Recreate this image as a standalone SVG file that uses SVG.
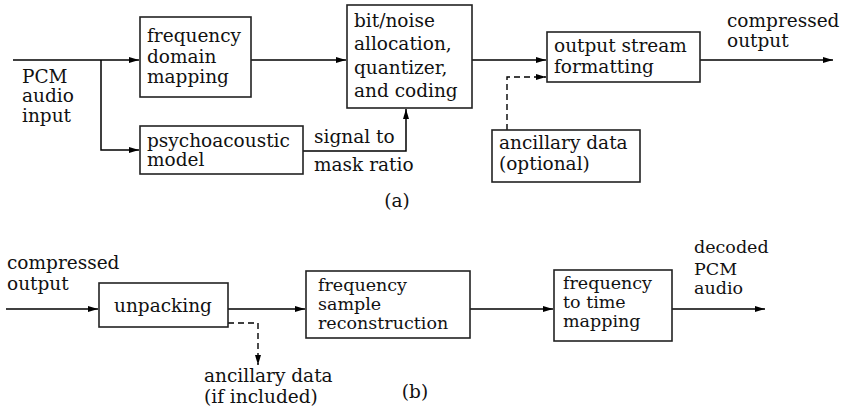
<svg xmlns="http://www.w3.org/2000/svg" width="841" height="416" viewBox="0 0 841 416">
<style>
text{font-family:"DejaVu Serif","Liberation Serif",serif;font-size:18.5px;fill:#111}
.tight{font-size:17.5px}
.box{fill:#fff;stroke:#222;stroke-width:1.6}
.ln{fill:none;stroke:#000;stroke-width:1.5}
.dash{fill:none;stroke:#000;stroke-width:1.4;stroke-dasharray:6,4}
</style>
<defs>
<marker id="ah" viewBox="0 0 10 6" refX="10" refY="3" markerWidth="10" markerHeight="6" markerUnits="userSpaceOnUse" orient="auto">
<path d="M0,0 L10,3 L0,6 Z" fill="#000"/>
</marker>
</defs>
<rect width="841" height="416" fill="#fff"/>
<g id="connectors">
<path class="ln" d="M13,60 H139" marker-end="url(#ah)"/>
<path class="ln" d="M101,60 V150 H139" marker-end="url(#ah)"/>
<path class="ln" d="M251,60 H346" marker-end="url(#ah)"/>
<path class="ln" d="M303,151 H406 V109" marker-end="url(#ah)"/>
<path class="ln" d="M472,60 H546" marker-end="url(#ah)"/>
<path class="dash" d="M507,130 V77 H546" marker-end="url(#ah)"/>
<path class="ln" d="M700,60 H833" marker-end="url(#ah)"/>
<path class="ln" d="M6,309 H98" marker-end="url(#ah)"/>
<path class="ln" d="M228,309 H305" marker-end="url(#ah)"/>
<path class="dash" d="M228,323 H258 V365" marker-end="url(#ah)"/>
<path class="ln" d="M470,309 H553" marker-end="url(#ah)"/>
<path class="ln" d="M672,309 H765" marker-end="url(#ah)"/>
</g>
<g id="pcm-input">
<text x="22" y="83">PCM</text>
<text x="22" y="102">audio</text>
<text x="22" y="122">input</text>
</g>
<g id="freq-domain">
<rect class="box" x="140" y="17" width="111" height="80"/>
<text x="147" y="42">frequency</text>
<text x="147" y="63">domain</text>
<text x="147" y="83">mapping</text>
</g>
<g id="psycho">
<rect class="box" x="140" y="126" width="163" height="48"/>
<text x="147" y="147">psychoacoustic</text>
<text x="147" y="166">model</text>
</g>
<g id="smr-label">
<text x="314" y="143">signal to</text>
<text x="314" y="171">mask ratio</text>
</g>
<g id="bitnoise">
<rect class="box" x="347" y="5" width="125" height="103"/>
<text x="354" y="27">bit/noise</text>
<text x="354" y="50">allocation,</text>
<text x="354" y="74">quantizer,</text>
<text x="354" y="97">and coding</text>
</g>
<g id="output-stream">
<rect class="box" x="547" y="32" width="153" height="50"/>
<text x="554" y="52">output stream</text>
<text x="554" y="73">formatting</text>
</g>
<g id="ancillary-a">
<rect class="box" x="492" y="130" width="148" height="52"/>
<text x="499" y="149">ancillary data</text>
<text x="499" y="170">(optional)</text>
</g>
<g id="compressed-out">
<text x="727" y="27">compressed</text>
<text x="727" y="47">output</text>
</g>
<text x="397" y="207" text-anchor="middle">(a)</text>
<g id="compressed-in">
<text x="7" y="269">compressed</text>
<text x="7" y="290">output</text>
</g>
<g id="unpacking">
<rect class="box" x="99" y="283" width="129" height="44"/>
<text x="114" y="312">unpacking</text>
</g>
<g id="ancillary-b">
<text x="204" y="382">ancillary data</text>
<text x="204" y="403">(if included)</text>
</g>
<g id="freq-sample">
<rect class="box" x="306" y="271" width="164" height="67"/>
<text class="tight" x="318" y="291">frequency</text>
<text class="tight" x="318" y="310">sample</text>
<text class="tight" x="318" y="329">reconstruction</text>
</g>
<g id="freq-time">
<rect class="box" x="554" y="270" width="118" height="71"/>
<text class="tight" x="563" y="289">frequency</text>
<text class="tight" x="563" y="308">to time</text>
<text class="tight" x="563" y="327">mapping</text>
</g>
<g id="decoded">
<text class="tight" x="694" y="253">decoded</text>
<text class="tight" x="694" y="275">PCM</text>
<text class="tight" x="694" y="294">audio</text>
</g>
<text x="415" y="398" text-anchor="middle">(b)</text>
</svg>
